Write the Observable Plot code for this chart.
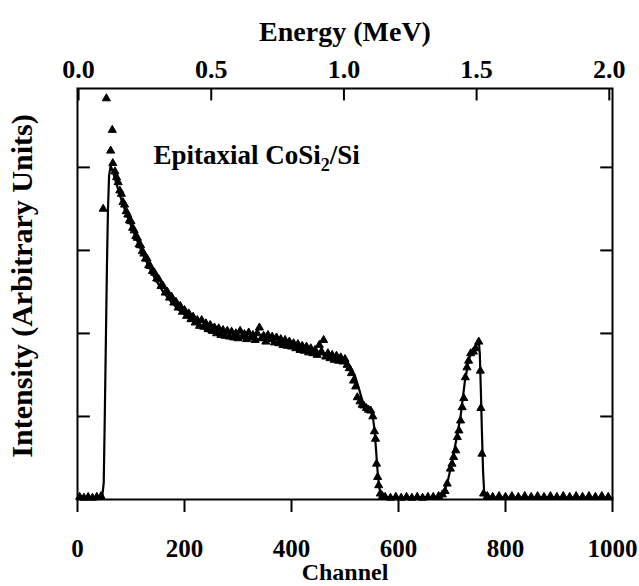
<!DOCTYPE html>
<html><head><meta charset="utf-8">
<script src="https://cdn.jsdelivr.net/npm/d3@7"></script>
<script src="https://cdn.jsdelivr.net/npm/@observablehq/plot@0.6"></script>
<style>body{margin:0;background:#fff}</style>
</head><body><div id="chart"></div>
<script>
// ---- data ----
const fitChannel = [0, 46, 49, 51, 53, 55, 57, 59, 62, 66, 72, 80, 90, 100, 115, 130, 145, 160, 175, 190, 205, 225, 245, 270, 300, 330, 360, 390, 420, 450, 480, 500, 510, 518, 525, 532, 540, 548, 552, 555, 558, 561, 564, 568, 575, 680, 686, 692, 700, 708, 716, 724, 732, 740, 746, 750, 752, 754, 756, 758, 760, 763, 770, 1000];
const fitIntensity = [0.02, 0.02, 0.2, 1.0, 1.9, 2.8, 3.5, 3.9, 4.02, 3.95, 3.82, 3.65, 3.46, 3.3, 3.06, 2.85, 2.66, 2.5, 2.38, 2.28, 2.2, 2.1, 2.02, 1.97, 1.95, 1.94, 1.91, 1.86, 1.81, 1.76, 1.71, 1.66, 1.6, 1.5, 1.36, 1.2, 1.1, 1.06, 1.0, 0.85, 0.6, 0.33, 0.14, 0.05, 0.02, 0.02, 0.1, 0.22, 0.45, 0.72, 1.0, 1.42, 1.7, 1.8, 1.86, 1.92, 1.75, 1.3, 0.8, 0.35, 0.1, 0.03, 0.02, 0.02];

const dataChannel = [
  4, 12, 20, 28, 36, 44,
  48, 54, 62, 65,
  66, 70, 73, 76, 79, 82, 85, 88, 91, 94, 97, 100, 103, 106, 109, 112, 115, 118, 121, 124, 127, 130, 133, 136, 140, 144, 148, 152, 156, 160, 164, 168, 172, 176, 180, 184, 188, 192, 196, 200, 204, 208, 212, 216, 220, 224, 228,
  232, 236, 240, 244, 248, 252, 256, 260, 264, 268, 272, 276, 280, 284, 288, 292, 296, 300, 304, 308, 312, 316, 320, 324, 328, 332, 336, 340, 344, 348, 352, 356, 360, 364, 368, 372, 376, 380, 384, 388, 392, 396, 400, 404, 408, 412, 416, 420, 424, 428, 432, 436, 440, 444, 448, 452, 456, 460, 464, 468, 472, 476, 480, 484, 488, 492, 496, 500,
  504, 508, 512, 516, 520, 523, 528, 532, 535, 540, 544, 548, 552, 555, 557, 559, 561, 563, 566, 570,
  575, 585, 595, 605, 615, 625, 635, 645, 655, 665, 675,
  682, 687, 691, 697, 700, 703, 707, 710, 713, 716, 719, 722, 725, 728, 731, 735, 740, 744, 750, 753, 754, 756, 759,
  766, 776, 788, 800, 812, 824, 836, 848, 860, 872, 884, 896, 908, 920, 932, 944, 956, 968, 980, 992
];
const dataIntensity = [
  0.03, 0.02, 0.03, 0.02, 0.03, 0.04,
  3.5, 4.83, 4.2, 4.45,
  4.05, 3.95, 3.88, 3.82, 3.72, 3.68, 3.58, 3.55, 3.47, 3.43, 3.36, 3.35, 3.27, 3.24, 3.17, 3.15, 3.07, 3.06, 2.99, 2.96, 2.9, 2.9, 2.82, 2.81, 2.75, 2.73, 2.66, 2.65, 2.57, 2.57, 2.49, 2.5, 2.43, 2.44, 2.37, 2.38, 2.31, 2.33, 2.26, 2.28, 2.21, 2.24, 2.17, 2.2, 2.13, 2.16, 2.09,
  2.16, 2.08, 2.12, 2.05, 2.10, 2.03, 2.07, 2.00, 2.06, 1.98, 2.04, 1.97, 2.03, 1.96, 2.02, 1.95, 2.00, 1.94, 2.03, 1.96, 1.99, 1.93, 2.01, 1.95, 1.98, 1.92, 2.00, 2.07, 1.94, 1.97, 1.90, 1.98, 1.93, 1.96, 1.89, 1.95, 1.88, 1.93, 1.86, 1.92, 1.85, 1.90, 1.84, 1.88, 1.82, 1.87, 1.80, 1.85, 1.79, 1.84, 1.77, 1.82, 1.76, 1.80, 1.74, 1.86, 1.78, 1.92, 1.72, 1.76, 1.70, 1.74, 1.68, 1.73, 1.67, 1.71, 1.66, 1.69,
  1.62, 1.58, 1.52, 1.43, 1.36, 1.23, 1.18, 1.14, 1.13, 1.10, 1.08, 1.07, 1.00, 0.82, 0.73, 0.43, 0.27, 0.17, 0.07, 0.04,
  0.03, 0.02, 0.03, 0.02, 0.03, 0.02, 0.03, 0.02, 0.03, 0.03, 0.04,
  0.06, 0.1, 0.19, 0.37, 0.43, 0.51, 0.59, 0.75, 0.83, 0.95, 1.11, 1.22, 1.47, 1.59, 1.67, 1.76, 1.78, 1.82, 1.9, 1.55, 1.1, 0.55, 0.07,
  0.04, 0.03, 0.04, 0.03, 0.04, 0.03, 0.04, 0.03, 0.04, 0.03, 0.04, 0.03, 0.04, 0.03, 0.04, 0.03, 0.04, 0.03, 0.04, 0.03
];

const channelTicks = [0, 200, 400, 600, 800, 1000];
const energyTicks = [0.0, 0.5, 1.0, 1.5, 2.0];
const intensityTicks = [1, 2, 3, 4];
const xLabel = "Channel";
const topLabel = "Energy (MeV)";
const yLabel = "Intensity (Arbitrary Units)";
const annotationParts = ["Epitaxial CoSi", "2", "/Si"];
const annotationAt = [142, 4.14]; // channel, intensity
// energy calibration
const energyOffset = 2, channelsPerMeV = 496;
const xMax = 1000, yMax = 4.95;

// ---- build ----
const fit = fitChannel.map((c, i) => ({channel: c, intensity: fitIntensity[i]}));
const pts = dataChannel.map((c, i) => ({channel: c, intensity: dataIntensity[i]}));
const energyChannel = e => energyOffset + e * channelsPerMeV;
const font = "Liberation Serif";
const annotationText = annotationParts.join("");

const chart = Plot.plot({
  width: 639, height: 586,
  marginLeft: 77, marginRight: 27, marginTop: 88, marginBottom: 87,
  style: {fontFamily: font, fontWeight: "bold", fontSize: "24px", color: "#000", background: "#fff"},
  x: {domain: [0, xMax]},
  y: {domain: [0, yMax]},
  marks: [
    Plot.axisX(channelTicks, {anchor: "bottom", tickSize: 13, tickPadding: 27, strokeWidth: 2, label: null, fontSize: 25, tickFormat: d => String(d)}),
    Plot.axisY(intensityTicks, {anchor: "left", tickSize: 0, tickFormat: () => "", label: null}),
    Plot.ruleY(intensityTicks, {x1: 0, x2: 24, strokeWidth: 2}),
    Plot.ruleY(intensityTicks, {x1: xMax - 22, x2: xMax, strokeWidth: 2}),
    Plot.ruleX(energyTicks, {x: energyChannel, y1: yMax, y2: yMax - 0.15, strokeWidth: 2}),
    Plot.text(energyTicks, {x: energyChannel, frameAnchor: "top", lineAnchor: "middle", dy: -19, text: e => e.toFixed(1), fontSize: 26}),
    Plot.frame({strokeWidth: 2}),
    Plot.line(fit, {x: "channel", y: "intensity", stroke: "#000", strokeWidth: 2.2}),
    Plot.dot(pts, {x: "channel", y: "intensity", symbol: "triangle", r: 3, fill: "#000", stroke: "#000", strokeWidth: 1}),
    Plot.text([xLabel], {frameAnchor: "bottom", lineAnchor: "middle", dy: 73, text: d => d, fontSize: 24}),
    Plot.text([topLabel], {frameAnchor: "top", lineAnchor: "middle", dy: -56, text: d => d, fontSize: 28}),
    Plot.text([yLabel], {frameAnchor: "left", textAnchor: "middle", lineAnchor: "middle", dx: -55, dy: -8, rotate: -90, text: d => d, fontSize: 30}),
    Plot.text([annotationText], {x: () => annotationAt[0], y: () => annotationAt[1], text: d => d, textAnchor: "start", lineAnchor: "middle", fontSize: 27})
  ]
});

// render the "2" of CoSi2 as a real subscript
d3.select(chart).selectAll("text")
  .filter(function() { return this.textContent === annotationText; })
  .each(function() {
    const t = d3.select(this);
    t.text(null);
    t.append("tspan").text(annotationParts[0]);
    t.append("tspan").attr("font-size", 18).attr("dy", 7).text(annotationParts[1]);
    t.append("tspan").attr("dy", -7).text(annotationParts[2]);
  });

document.getElementById("chart").appendChild(chart);
</script>
</body></html>
